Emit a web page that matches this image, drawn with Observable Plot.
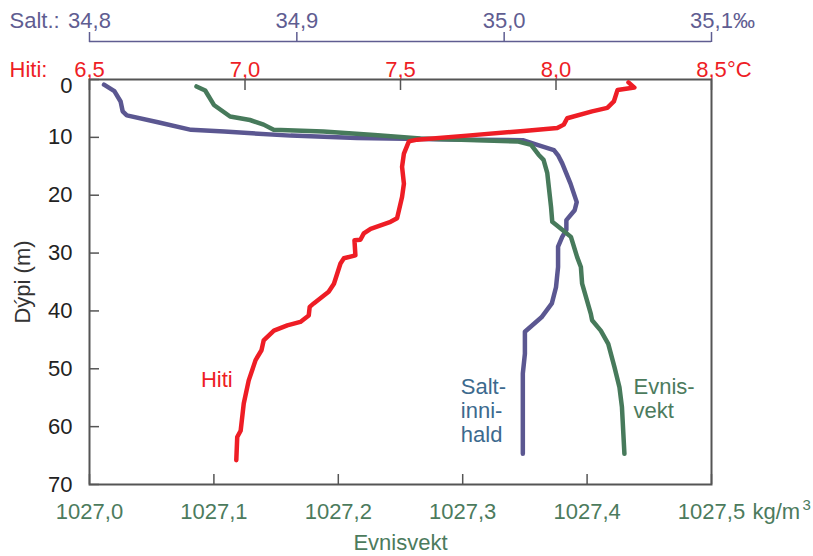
<!DOCTYPE html>
<html><head><meta charset="utf-8">
<script src="https://cdn.jsdelivr.net/npm/d3@7"></script>
<script src="https://cdn.jsdelivr.net/npm/@observablehq/plot@0.6"></script>
<style>body{margin:0;background:#fff} svg{display:block}</style>
</head><body><div id="chart"></div>
<script>
// ---- data ----
const salinityDepth = [0.9, 2.0, 3.8, 5.5, 6.2, 7.4, 8.7, 9.0, 9.7, 10.1, 10.3, 10.4, 10.5, 11.3, 12.2, 13.1, 14.5, 18.0, 21.2, 22.6, 24.3, 26.0, 27.2, 28.9, 32.4, 35.9, 38.7, 41.1, 43.6, 47.4, 50.8, 64.7];
const salinityValues = [34.807, 34.812, 34.815, 34.816, 34.818, 34.833, 34.849, 34.865, 34.897, 34.929, 34.960, 34.984, 35.009, 35.016, 35.024, 35.026, 35.028, 35.032, 35.035, 35.034, 35.030, 35.030, 35.028, 35.026, 35.026, 35.025, 35.023, 35.018, 35.010, 35.010, 35.009, 35.009];

const temperatureDepth = [0.5, 1.4, 1.8, 3.8, 4.9, 5.5, 6.7, 7.8, 8.4, 8.9, 9.7, 10.4, 10.7, 12.8, 15.1, 18.0, 20.3, 24.0, 24.6, 25.8, 26.6, 27.7, 27.8, 30.4, 30.9, 31.8, 35.3, 36.7, 38.7, 39.3, 40.8, 41.9, 42.5, 43.4, 45.1, 46.8, 48.5, 52.0, 56.0, 60.7, 61.8, 65.8];
const temperatureValues = [8.233, 8.252, 8.198, 8.186, 8.165, 8.116, 8.036, 8.025, 8.004, 7.896, 7.714, 7.554, 7.527, 7.511, 7.505, 7.511, 7.505, 7.489, 7.468, 7.404, 7.382, 7.371, 7.352, 7.355, 7.318, 7.307, 7.286, 7.269, 7.221, 7.208, 7.205, 7.178, 7.136, 7.093, 7.060, 7.053, 7.034, 7.012, 6.996, 6.986, 6.975, 6.972];

const densityDepth = [1.2, 1.9, 4.4, 6.4, 7.0, 7.8, 8.7, 9.0, 9.6, 10.2, 10.7, 11.3, 13.0, 13.9, 16.2, 22.0, 24.6, 25.8, 27.2, 30.7, 32.4, 35.3, 40.5, 41.6, 43.4, 45.7, 49.7, 53.2, 56.6, 64.7];
const densityValues = [1027.086, 1027.093, 1027.100, 1027.113, 1027.129, 1027.140, 1027.148, 1027.188, 1027.229, 1027.266, 1027.344, 1027.355, 1027.361, 1027.365, 1027.368, 1027.371, 1027.372, 1027.379, 1027.387, 1027.392, 1027.395, 1027.396, 1027.403, 1027.404, 1027.411, 1027.417, 1027.422, 1027.426, 1027.428, 1027.430];

const depthTicks = [0, 10, 20, 30, 40, 50, 60, 70];
const temperatureTicks = [6.5, 7.0, 7.5, 8.0, 8.5];
const salinityTicks = [34.8, 34.9, 35.0, 35.1];
const densityTicks = [1027.0, 1027.1, 1027.2, 1027.3, 1027.4, 1027.5];

// ---- styles ----
const RED = "#ee1d25", PURPLE = "#5b5791", GREEN = "#477a5b", LABELBLUE = "#3c6a8e";
const SALTEXT = "#5f5d91", DENSTEXT = "#4c7b5d", AXIS = "#555555", INK = "#222222";

// map temperature and salinity onto the shared (density) x scale
const tx = t => 1027 + (t - 6.5) * 0.25;
const sx = s => 1027 + (s - 34.8) / 0.3 * 0.5;
const fmt = (v, d) => v.toFixed(d).replace(".", ",");

const sal = salinityDepth.map((d, i) => ({depth: d, v: sx(salinityValues[i])}));
const temp = temperatureDepth.map((d, i) => ({depth: d, v: tx(temperatureValues[i])}));
const dens = densityDepth.map((d, i) => ({depth: d, v: densityValues[i]}));

const tLabel = new Map(temperatureTicks.map(t => [tx(t), fmt(t, 1)]));
const sLabel = new Map(salinityTicks.map(s => [sx(s), fmt(s, 1)]));

const lineOpts = {x: "v", y: "depth", strokeWidth: 4.5, strokeLinecap: "round", strokeLinejoin: "round"};

const chart = Plot.plot({
  width: 813, height: 556,
  marginTop: 79, marginBottom: 72, marginLeft: 89, marginRight: 102,
  style: {fontFamily: "'Liberation Sans', Arial, Helvetica, sans-serif", fontSize: "22px", background: "#fff"},
  x: {domain: [1027.0, 1027.5], label: null},
  y: {domain: [0, 70], reverse: true, label: null},
  marks: [
    // depth axis
    Plot.axisY(depthTicks, {anchor: "left", tickSize: -10, stroke: AXIS, strokeWidth: 1.5, fill: "none", label: null}),
    Plot.axisY(depthTicks.slice(1), {anchor: "left", tickSize: 0, tickPadding: 17, fill: INK, stroke: "none", label: null, tickFormat: d => String(d)}),
    Plot.text(depthTicks.slice(0, 1), {y: d => d, frameAnchor: "left", dx: -17, dy: 6, textAnchor: "end", text: d => String(d), fill: INK}),
    // temperature axis (top)
    Plot.axisX(temperatureTicks.map(tx), {anchor: "top", tickSize: -10, stroke: AXIS, strokeWidth: 1.5, fill: "none", label: null}),
    Plot.axisX(temperatureTicks.map(tx), {anchor: "top", tickSize: 0, tickPadding: 2.5, stroke: "none", fill: RED, tickFormat: v => tLabel.get(v), label: null}),
    Plot.text(["°C"], {x: () => tx(8.5), frameAnchor: "top", dx: 15.5, dy: -2.5, textAnchor: "start", lineAnchor: "bottom", fill: RED}),
    Plot.text(["Hiti:"], {frameAnchor: "top-left", dx: -80, dy: -2.5, textAnchor: "start", lineAnchor: "bottom", fill: RED}),
    // salinity axis (above)
    Plot.ruleY([0], {x1: () => sx(34.8), x2: () => sx(35.1), dy: -38, stroke: SALTEXT, strokeWidth: 1.5}),
    Plot.axisX(salinityTicks.map(sx), {anchor: "top", dy: -38, tickSize: 10, stroke: SALTEXT, strokeWidth: 1.5, fill: "none", label: null}),
    Plot.axisX(salinityTicks.map(sx), {anchor: "top", dy: -38, tickSize: 0, tickPadding: 13.5, stroke: "none", fill: SALTEXT, tickFormat: v => sLabel.get(v), label: null}),
    Plot.text(["‰"], {x: () => sx(35.1), frameAnchor: "top", dx: 21.4, dy: -51.5, textAnchor: "start", lineAnchor: "bottom", fill: SALTEXT}),
    Plot.text(["Salt.:"], {frameAnchor: "top-left", dx: -80, dy: -51.5, textAnchor: "start", lineAnchor: "bottom", fill: SALTEXT}),
    // density axis (bottom)
    Plot.axisX(densityTicks, {anchor: "bottom", tickSize: -10, stroke: AXIS, strokeWidth: 1.5, fill: "none", label: null}),
    Plot.axisX(densityTicks, {anchor: "bottom", tickSize: 0, tickPadding: 19, stroke: "none", fill: DENSTEXT, tickFormat: v => fmt(v, 1), label: null}),
    Plot.text(["kg/m"], {x: () => 1027.5, frameAnchor: "bottom", dx: 41, dy: 19, textAnchor: "start", lineAnchor: "top", fill: DENSTEXT}),
    Plot.text(["3"], {x: () => 1027.5, frameAnchor: "bottom", dx: 91, dy: 15, textAnchor: "start", lineAnchor: "top", fill: DENSTEXT, fontSize: 15}),
    Plot.text(["Evnisvekt"], {frameAnchor: "bottom", dy: 50, textAnchor: "middle", lineAnchor: "top", fill: DENSTEXT}),
    Plot.text(["Dýpi (m)"], {frameAnchor: "left", dx: -67, rotate: -90, textAnchor: "middle", fill: "#333"}),
    // frame
    Plot.frame({stroke: AXIS, strokeWidth: 2}),
    // profiles
    Plot.line(sal, {...lineOpts, stroke: PURPLE}),
    Plot.line(dens, {...lineOpts, stroke: GREEN}),
    Plot.line(temp, {...lineOpts, stroke: RED}),
    // curve labels, anchored to points on each profile
    Plot.text(temp, {filter: d => d.depth === 52.0, x: "v", y: "depth", text: () => "Hiti", dx: -16, textAnchor: "end", fill: RED}),
    Plot.text(sal, {filter: d => d.depth === 50.8, x: "v", y: "depth", text: () => "Salt-\ninni-\nhald", dx: -62, dy: 3, textAnchor: "start", lineAnchor: "top", lineHeight: 1.1, fill: LABELBLUE}),
    Plot.text(dens, {filter: d => d.depth === 49.7, x: "v", y: "depth", text: () => "Evnis-\nvekt", dx: 19, dy: 10, textAnchor: "start", lineAnchor: "top", lineHeight: 1.1, fill: DENSTEXT})
  ]
});
document.getElementById("chart").appendChild(chart);
</script>
</body></html>
